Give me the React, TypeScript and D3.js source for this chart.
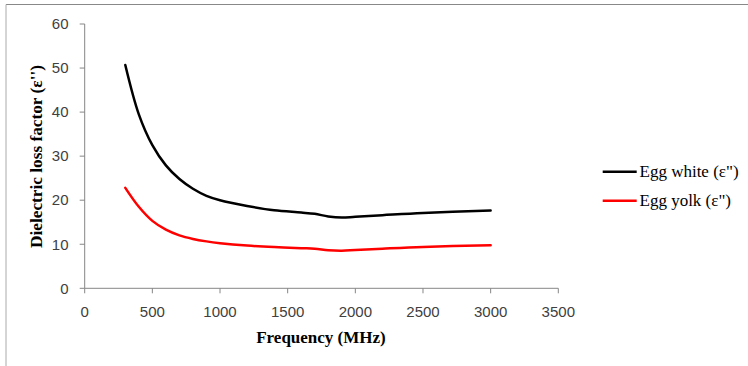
import React from "react";
import * as d3 from "d3";

const frequencies = [300, 400, 500, 600, 700, 800, 900, 1000, 1200, 1400, 1600, 1700, 1800, 1900, 2000, 2200, 2500, 3000];
const eggWhite = [50.7, 39.5, 32.5, 27.9, 24.8, 22.6, 21.0, 20.0, 18.7, 17.7, 17.2, 16.9, 16.3, 16.05, 16.25, 16.6, 17.1, 17.65];
const eggYolk = [22.8, 18.5, 15.3, 13.3, 12.0, 11.2, 10.65, 10.25, 9.7, 9.35, 9.1, 9.0, 8.65, 8.55, 8.7, 9.0, 9.4, 9.8];
const xTicks = [0, 500, 1000, 1500, 2000, 2500, 3000, 3500];
const yTicks = [0, 10, 20, 30, 40, 50, 60];
const seriesNames = ["Egg white (ε\")", "Egg yolk (ε\")"];
const seriesColors = ["#000000", "#ff0000"];

export default function App() {
  const W = 748, H = 366;
  const x = d3.scaleLinear().domain([0, 3500]).range([84.7, 558.3]);
  const y = d3.scaleLinear().domain([0, 60]).range([288.3, 24]);
  const line = d3
    .line<number>()
    .x((_, i) => x(frequencies[i]))
    .y((d) => y(d))
    .curve(d3.curveCatmullRom.alpha(0.5));
  const series = [eggWhite, eggYolk];
  const axisColor = "#868686";
  const tickColor = "#404040";
  return (
    <svg width={W} height={H} style={{ position: "absolute", left: 0, top: 0, background: "#fff" }}>
      <rect x={0} y={0} width={W} height={H} fill="#fff" />
      <line x1={6} y1={4.5} x2={W} y2={4.5} stroke="#888" strokeWidth={1.2} />
      <line x1={6} y1={4.5} x2={6} y2={H} stroke="#aaa" strokeWidth={1} />
      <line x1={x(0)} y1={y(0)} x2={x(0)} y2={y(60)} stroke={axisColor} strokeWidth={1} />
      {yTicks.map((t) => (
        <g key={"y" + t}>
          <line x1={x(0) - 5} x2={x(0)} y1={y(t)} y2={y(t)} stroke={axisColor} />
          <text
            x={68.5}
            y={y(t)}
            dy="0.35em"
            textAnchor="end"
            fontFamily="Liberation Sans, Arial, sans-serif"
            fontSize={15}
            fill={tickColor}
          >
            {t}
          </text>
        </g>
      ))}
      <line x1={x(0)} y1={y(0)} x2={x(3500)} y2={y(0)} stroke={axisColor} strokeWidth={1} />
      {xTicks.map((t) => (
        <g key={"x" + t}>
          <line x1={x(t)} x2={x(t)} y1={y(0)} y2={y(0) + 5} stroke={axisColor} />
          <text
            x={x(t)}
            y={311.7}
            dy="0.35em"
            textAnchor="middle"
            fontFamily="Liberation Sans, Arial, sans-serif"
            fontSize={15}
            fill={tickColor}
          >
            {t}
          </text>
        </g>
      ))}
      {series.map((s, i) => (
        <path key={i} d={line(s) || ""} fill="none" stroke={seriesColors[i]} strokeWidth={2.5} strokeLinecap="round" />
      ))}
      <text
        x={321}
        y={343}
        textAnchor="middle"
        fontFamily="Liberation Serif, Times New Roman, serif"
        fontWeight="bold"
        fontSize={17}
        fill="#000"
      >
        Frequency (MHz)
      </text>
      <text
        transform={`translate(42, ${156.5}) rotate(-90)`}
        textAnchor="middle"
        fontFamily="Liberation Serif, Times New Roman, serif"
        fontWeight="bold"
        fontSize={17}
        textLength={183}
        lengthAdjust="spacingAndGlyphs"
        fill="#000"
      >
        Dielectric loss factor (ε'')
      </text>
      {seriesNames.map((n, i) => (
        <g key={n}>
          <line x1={602.7} x2={636.7} y1={171.7 + i * 29} y2={171.7 + i * 29} stroke={seriesColors[i]} strokeWidth={2.5} />
          <text
            x={639.5}
            y={171.7 + i * 29}
            dy="0.32em"
            fontFamily="Liberation Serif, Times New Roman, serif"
            fontSize={17}
            fill="#000"
          >
            {n}
          </text>
        </g>
      ))}
    </svg>
  );
}
